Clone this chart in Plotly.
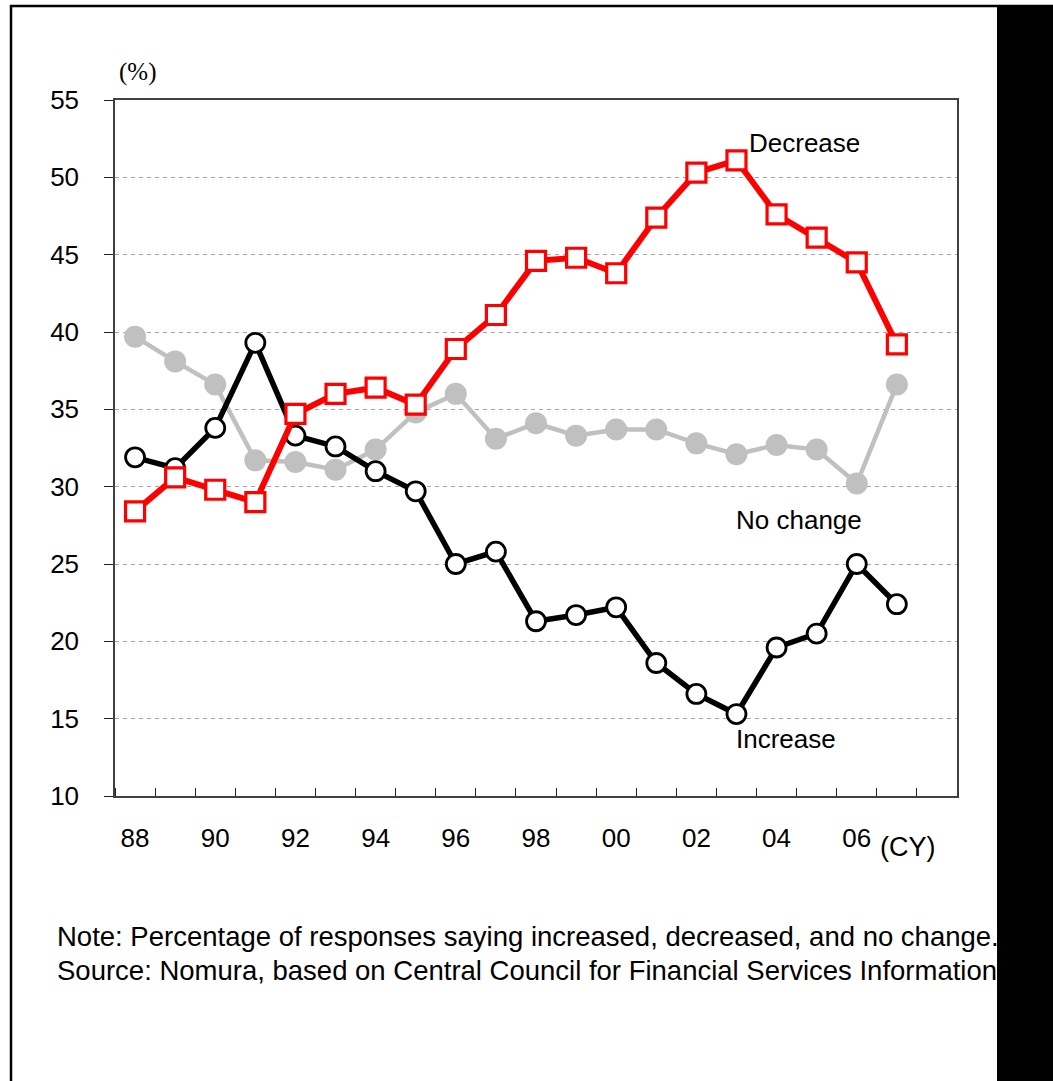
import plotly.graph_objects as go

# Survey responses (% of households), calendar years 1988-2007
years = list(range(1988, 2008))
decrease = [28.4, 30.6, 29.8, 29.0, 34.7, 36.0, 36.4, 35.3, 38.9, 41.1,
            44.6, 44.8, 43.8, 47.4, 50.3, 51.1, 47.6, 46.1, 44.5, 39.2]
increase = [31.9, 31.2, 33.8, 39.3, 33.3, 32.6, 31.0, 29.7, 25.0, 25.8,
            21.3, 21.7, 22.2, 18.6, 16.6, 15.3, 19.6, 20.5, 25.0, 22.4]
no_change = [39.7, 38.1, 36.6, 31.7, 31.6, 31.1, 32.4, 34.8, 36.0, 33.1,
             34.1, 33.3, 33.7, 33.7, 32.8, 32.1, 32.7, 32.4, 30.2, 36.6]

tick_years = list(range(1988, 2007, 2))
tick_text = [f"{y % 100:02d}" for y in tick_years]
y_ticks = list(range(10, 56, 5))

# Page geometry (pixels)
W, H = 1053, 1081
ML, MR, MT, MB = 115, 96, 100, 285


def px_x(px):
    return (px - ML) / (W - ML - MR)


def px_y(py):
    return (H - MB - py) / (H - MT - MB)


FONT = "Liberation Sans, Arial, sans-serif"

fig = go.Figure()

fig.add_trace(go.Scatter(
    x=years, y=no_change, mode="lines+markers", name="No change",
    line=dict(color="#c0c0c0", width=4.5),
    marker=dict(symbol="circle", size=22, color="#c0c0c0", line=dict(width=0)),
))
fig.add_trace(go.Scatter(
    x=years, y=increase, mode="lines+markers", name="Increase",
    line=dict(color="#000000", width=5.5),
    marker=dict(symbol="circle", size=19, color="#ffffff",
                line=dict(color="#000000", width=2.8)),
))
fig.add_trace(go.Scatter(
    x=years, y=decrease, mode="lines+markers", name="Decrease",
    line=dict(color="#ff0000", width=6),
    marker=dict(symbol="square", size=19, color="#ffffff",
                line=dict(color="#ff0000", width=3.2)),
))

annotations = [
    dict(text="Decrease", x=2003.25, y=52.2, xref="x", yref="y",
         xanchor="left", yanchor="middle", showarrow=False,
         font=dict(family=FONT, size=26, color="#000000")),
    dict(text="No change", x=2002.95, y=27.85, xref="x", yref="y",
         xanchor="left", yanchor="middle", showarrow=False,
         font=dict(family=FONT, size=26, color="#000000")),
    dict(text="Increase", x=2002.95, y=13.7, xref="x", yref="y",
         xanchor="left", yanchor="middle", showarrow=False,
         font=dict(family=FONT, size=26, color="#000000")),
    dict(text="(%)", x=px_x(117), y=px_y(72), xref="paper", yref="paper",
         xanchor="left", yanchor="middle", showarrow=False,
         font=dict(family="Liberation Serif, Times New Roman, serif",
                   size=25, color="#000000")),
    dict(text="(CY)", x=px_x(878), y=px_y(847), xref="paper", yref="paper",
         xanchor="left", yanchor="middle", showarrow=False,
         font=dict(family=FONT, size=27, color="#000000")),
    dict(text="Note: Percentage of responses saying increased, decreased, and no change.",
         x=px_x(55), y=px_y(937), xref="paper", yref="paper",
         xanchor="left", yanchor="middle", showarrow=False,
         font=dict(family=FONT, size=27.5, color="#000000")),
    dict(text="Source: Nomura, based on Central Council for Financial Services Information",
         x=px_x(55), y=px_y(970), xref="paper", yref="paper",
         xanchor="left", yanchor="middle", showarrow=False,
         font=dict(family=FONT, size=27.5, color="#000000")),
]

# Page frame: left and top rules, solid bar down the right edge
shapes = [
    dict(type="line", xref="paper", yref="paper",
         x0=px_x(11), x1=px_x(11), y0=px_y(5), y1=px_y(H),
         line=dict(color="#000000", width=2.5), layer="above"),
    dict(type="line", xref="paper", yref="paper",
         x0=px_x(10), x1=px_x(W), y0=px_y(6), y1=px_y(6),
         line=dict(color="#000000", width=2.5), layer="above"),
    dict(type="rect", xref="paper", yref="paper",
         x0=px_x(997), x1=px_x(W + 5), y0=px_y(5), y1=px_y(H + 5),
         fillcolor="#000000", line=dict(width=0), layer="above"),
]

fig.update_layout(
    width=W, height=H,
    margin=dict(l=ML, r=MR, t=MT, b=MB, pad=0),
    paper_bgcolor="#ffffff", plot_bgcolor="#ffffff",
    showlegend=False,
    annotations=annotations,
    shapes=shapes,
    font=dict(family=FONT, color="#000000"),
)

fig.update_xaxes(
    range=[1987.5, 2008.5],
    tickmode="array", tickvals=tick_years, ticktext=tick_text,
    ticks="", showgrid=False, zeroline=False,
    tickfont=dict(family=FONT, size=26, color="#000000"),
    ticklabelstandoff=18,
    showline=True, linecolor="#404040", linewidth=1.5, mirror=True,
    minor=dict(tickmode="array", tickvals=[y + 0.5 for y in range(1987, 2008)],
               ticks="inside", ticklen=8, tickwidth=1.3, tickcolor="#202020",
               showgrid=False),
)

fig.update_yaxes(
    range=[10, 55],
    tickmode="array", tickvals=y_ticks,
    ticks="outside", ticklen=9, tickwidth=1.3, tickcolor="#202020",
    tickfont=dict(family=FONT, size=26, color="#000000"),
    ticklabelstandoff=20,
    showgrid=True, gridcolor="#a6a6a6", gridwidth=1, griddash="4px,4px",
    zeroline=False,
    showline=True, linecolor="#404040", linewidth=1.5, mirror=True,
)

fig.write_html("out.html")
